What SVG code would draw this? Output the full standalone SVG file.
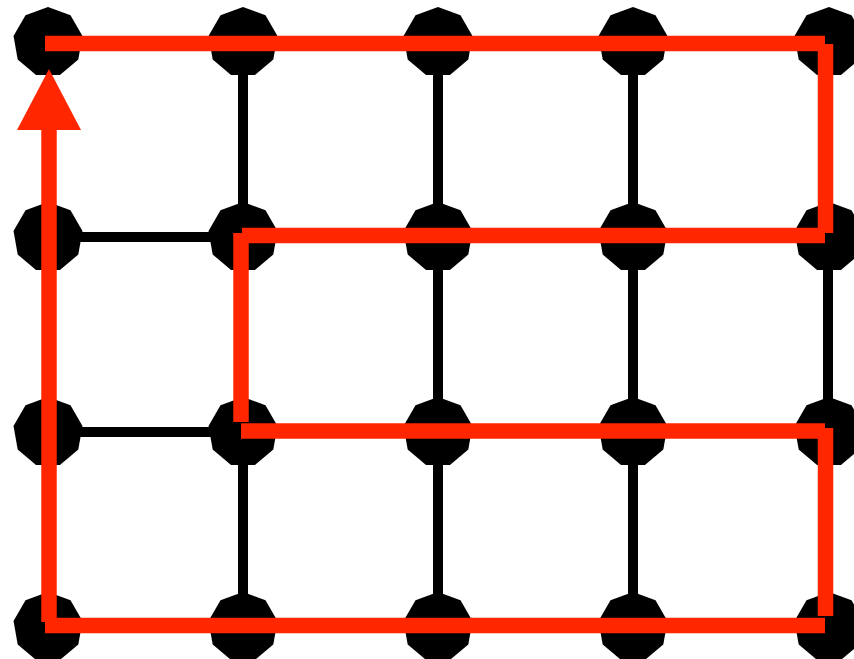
<svg xmlns="http://www.w3.org/2000/svg" xmlns:xlink="http://www.w3.org/1999/xlink" width="854" height="659" viewBox="0 0 854 659">
<style>
.edge{stroke:#000;stroke-width:10;fill:none}
.path{stroke:#ff2600;stroke-width:15.5;fill:none;stroke-linecap:butt}
.node{fill:#000}
</style>
<defs>
<polygon id="nonagon" class="node" points="0,-35 22.5,-26.81 34.47,-6.08 30.31,17.5 11.97,32.89 -11.97,32.89 -30.31,17.5 -34.47,-6.08 -22.5,-26.81"/>
</defs>
<rect width="854" height="659" fill="#fff"/>
<g id="grid-edges">
<line class="edge" x1="243" y1="42" x2="243" y2="237"/>
<line class="edge" x1="438" y1="42" x2="438" y2="237"/>
<line class="edge" x1="633" y1="42" x2="633" y2="237"/>
<line class="edge" x1="48" y1="237" x2="243" y2="237"/>
<line class="edge" x1="438" y1="237" x2="438" y2="432"/>
<line class="edge" x1="633" y1="237" x2="633" y2="432"/>
<line class="edge" x1="828" y1="237" x2="828" y2="432"/>
<line class="edge" x1="48" y1="432" x2="243" y2="432"/>
<line class="edge" x1="243" y1="432" x2="243" y2="627"/>
<line class="edge" x1="438" y1="432" x2="438" y2="627"/>
<line class="edge" x1="633" y1="432" x2="633" y2="627"/>
</g>
<g id="n00"><use xlink:href="#nonagon" transform="translate(48,42)"/></g>
<g id="n10"><use xlink:href="#nonagon" transform="translate(243,42)"/></g>
<g id="n20"><use xlink:href="#nonagon" transform="translate(438,42)"/></g>
<g id="n30"><use xlink:href="#nonagon" transform="translate(633,42)"/></g>
<g id="n40"><use xlink:href="#nonagon" transform="translate(829,42)"/></g>
<g id="n01"><use xlink:href="#nonagon" transform="translate(48,237)"/></g>
<g id="n11"><use xlink:href="#nonagon" transform="translate(243,237)"/></g>
<g id="n21"><use xlink:href="#nonagon" transform="translate(438,237)"/></g>
<g id="n31"><use xlink:href="#nonagon" transform="translate(633,237)"/></g>
<g id="n41"><use xlink:href="#nonagon" transform="translate(829,237)"/></g>
<g id="n02"><use xlink:href="#nonagon" transform="translate(48,432)"/></g>
<g id="n12"><use xlink:href="#nonagon" transform="translate(243,432)"/></g>
<g id="n22"><use xlink:href="#nonagon" transform="translate(438,432)"/></g>
<g id="n32"><use xlink:href="#nonagon" transform="translate(633,432)"/></g>
<g id="n42"><use xlink:href="#nonagon" transform="translate(829,432)"/></g>
<g id="n03"><use xlink:href="#nonagon" transform="translate(48,627)"/></g>
<g id="n13"><use xlink:href="#nonagon" transform="translate(243,627)"/></g>
<g id="n23"><use xlink:href="#nonagon" transform="translate(438,627)"/></g>
<g id="n33"><use xlink:href="#nonagon" transform="translate(633,627)"/></g>
<g id="n43"><use xlink:href="#nonagon" transform="translate(829,627)"/></g>
<g id="connectors">
<line class="path" x1="45" y1="43.5" x2="825" y2="43.5"/>
<line class="path" x1="825.5" y1="44" x2="825.5" y2="233"/>
<line class="path" x1="825" y1="235.5" x2="242" y2="235.5"/>
<line class="path" x1="241" y1="233" x2="241" y2="422"/>
<line class="path" x1="241" y1="431" x2="825" y2="431"/>
<line class="path" x1="825.5" y1="428" x2="825.5" y2="616"/>
<line class="path" x1="825" y1="625.5" x2="45" y2="625.5"/>
<line class="path" x1="49" y1="622" x2="49" y2="128"/>
<polygon fill="#ff2600" points="49,69 81,130 17,130"/>
</g>
</svg>
